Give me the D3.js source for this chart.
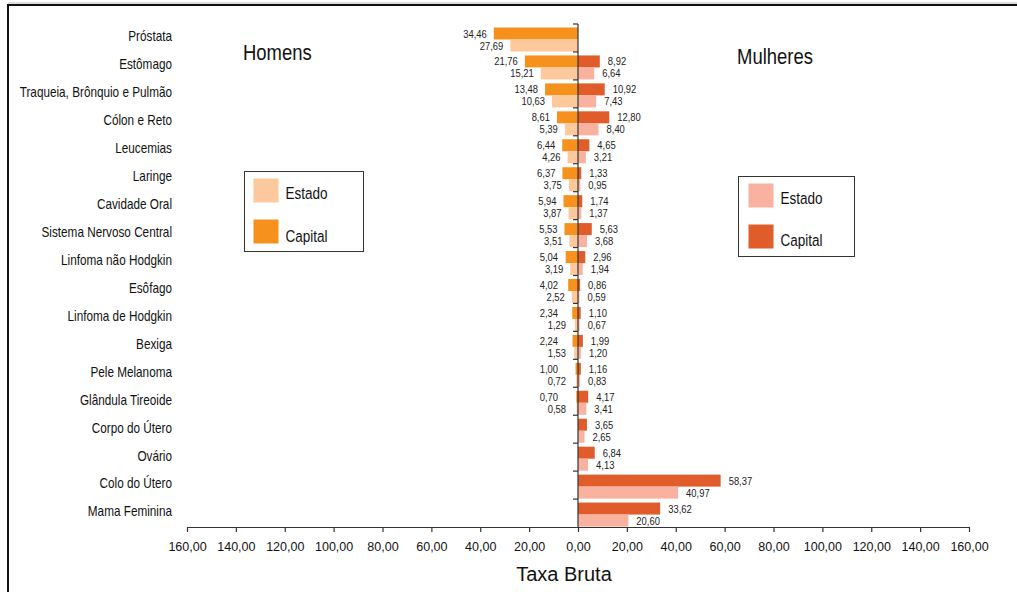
<!DOCTYPE html>
<html>
<head>
<meta charset="utf-8">
<script src="https://cdn.jsdelivr.net/npm/d3@7"></script>
<style>
  html, body { margin: 0; padding: 0; background: #fff; }
  svg { display: block; }
  text { font-family: "Liberation Sans", Arial, sans-serif; }
</style>
</head>
<body>
<svg id="chart" width="1017" height="592"></svg>
<script>
// Cancer sites, top to bottom
const categories = [
  "Próstata", "Estômago", "Traqueia, Brônquio e Pulmão", "Cólon e Reto", "Leucemias",
  "Laringe", "Cavidade Oral", "Sistema Nervoso Central", "Linfoma não Hodgkin", "Esôfago",
  "Linfoma de Hodgkin", "Bexiga", "Pele Melanoma", "Glândula Tireoide", "Corpo do Útero",
  "Ovário", "Colo do Útero", "Mama Feminina"
];
// Crude rates (Taxa Bruta) — men
const homensCapital = [34.46, 21.76, 13.48, 8.61, 6.44, 6.37, 5.94, 5.53, 5.04, 4.02, 2.34, 2.24, 1.00, 0.70, null, null, null, null];
const homensEstado  = [27.69, 15.21, 10.63, 5.39, 4.26, 3.75, 3.87, 3.51, 3.19, 2.52, 1.29, 1.53, 0.72, 0.58, null, null, null, null];
// Crude rates (Taxa Bruta) — women
const mulheresCapital = [null, 8.92, 10.92, 12.80, 4.65, 1.33, 1.74, 5.63, 2.96, 0.86, 1.10, 1.99, 1.16, 4.17, 3.65, 6.84, 58.37, 33.62];
const mulheresEstado  = [null, 6.64, 7.43, 8.40, 3.21, 0.95, 1.37, 3.68, 1.94, 0.59, 0.67, 1.20, 0.83, 3.41, 2.65, 4.13, 40.97, 20.60];
// Axis ticks (absolute values on both sides)
const tickValues = [-160, -140, -120, -100, -80, -60, -40, -20, 0, 20, 40, 60, 80, 100, 120, 140, 160];

const colors = {
  homensCapital: "#f7911e",
  homensEstado: "#fdc89b",
  mulheresCapital: "#e05c2a",
  mulheresEstado: "#fab2a0"
};

const locale = d3.formatLocale({ decimal: ",", thousands: ".", grouping: [3], currency: ["R$", ""] });
const fmt = locale.format(".2f");

// condensed text: horizontally squeezed glyphs placed at (x, y)
function narrow(sel, xf, yf, k = 0.82) {
  return sel.attr("x", 0).attr("y", 0)
    .attr("transform", (d, i) => `translate(${xf(d, i)},${yf(d, i)}) scale(${k},1)`);
}

const svg = d3.select("#chart");
const W = 1017, H = 592;
svg.append("rect").attr("width", W).attr("height", H).attr("fill", "#fff");

// frame (left and top edges)
svg.append("line").attr("x1", 8).attr("x2", W).attr("y1", 3).attr("y2", 3).attr("stroke", "#bbb").attr("stroke-width", 1);
svg.append("path").attr("d", `M8,${H} L8,5 L${W},5`).attr("fill", "none").attr("stroke", "#111").attr("stroke-width", 2);

const x0 = 578, axisY = 527, topY = 24;
const x = d3.scaleLinear().domain([-160, 160]).range([187, 969]);
const y = d3.scaleBand().domain(categories).range([topY, axisY]).padding(0);
const bw = y.bandwidth();
const barH = bw * 0.43;
const off = bw * 0.125;

const g = svg.append("g");

function barsFor(values, sign, color, slot) {
  const data = categories.map((c, i) => ({ c, v: values[i] })).filter(d => d.v != null);
  g.selectAll(null).data(data).enter().append("rect")
    .attr("x", d => sign < 0 ? x(-d.v) : x(0))
    .attr("width", d => Math.abs(x(d.v) - x(0)))
    .attr("y", d => y(d.c) + off + slot * barH)
    .attr("height", barH)
    .attr("fill", color);
  return data;
}

const hc = barsFor(homensCapital, -1, colors.homensCapital, 0);
const he = barsFor(homensEstado, -1, colors.homensEstado, 1);
const mc = barsFor(mulheresCapital, 1, colors.mulheresCapital, 0);
const me = barsFor(mulheresEstado, 1, colors.mulheresEstado, 1);

// value labels
function labelsFor(data, sign, slot, minGap) {
  const t = g.selectAll(null).data(data).enter().append("text")
    .attr("font-size", 11.5)
    .attr("fill", "#222")
    .attr("text-anchor", sign < 0 ? "end" : "start")
    .attr("dy", "0.35em")
    .text(d => fmt(d.v));
  narrow(t,
    d => sign < 0 ? Math.min(x(-d.v) - 7, x0 - minGap) : Math.max(x(d.v) + 8, x0 + minGap),
    d => y(d.c) + off + slot * barH + barH / 2);
}
labelsFor(hc, -1, 0, 20);
labelsFor(he, -1, 1, 12);
labelsFor(mc, 1, 0, 10);
labelsFor(me, 1, 1, 9);

// category labels
const cat = svg.append("g").selectAll("text").data(categories).enter().append("text")
  .attr("font-size", 14)
  .attr("fill", "#111")
  .attr("text-anchor", "end")
  .attr("dy", "0.35em")
  .text(d => d);
narrow(cat, () => 172, d => y(d) + bw / 2 - 1.5, 0.84);

// vertical axis at zero with category separators
const vAxis = svg.append("g").attr("stroke", "#333");
vAxis.append("line").attr("x1", x0).attr("x2", x0).attr("y1", topY).attr("y2", axisY).attr("stroke-width", 1.2);
const bounds = categories.map(c => y(c));
vAxis.selectAll(null).data(bounds).enter().append("line")
  .attr("x1", x0 - 5).attr("x2", x0).attr("y1", d => d).attr("y2", d => d).attr("stroke-width", 1.2);

// horizontal axis
const xAxis = d3.axisBottom(x).tickValues(tickValues).tickSize(5).tickPadding(10).tickSizeOuter(0)
  .tickFormat(d => fmt(Math.abs(d)));
const ax = svg.append("g").attr("transform", `translate(0,${axisY})`).call(xAxis);
ax.select(".domain").attr("stroke", "#333").attr("stroke-width", 1.2);
ax.selectAll(".tick line").attr("stroke", "#333").attr("stroke-width", 1.2);
ax.selectAll(".tick text").attr("font-family", "Liberation Sans, Arial, sans-serif").attr("font-size", 12.5).attr("fill", "#111");

svg.append("text").attr("font-size", 20).attr("fill", "#111")
  .attr("text-anchor", "middle").attr("x", 564).attr("y", 581).text("Taxa Bruta");

// panel titles
narrow(svg.append("text").datum(0).attr("font-size", 22).attr("fill", "#111").text("Homens"), () => 243, () => 60, 0.84);
narrow(svg.append("text").datum(0).attr("font-size", 22).attr("fill", "#111").text("Mulheres"), () => 737, () => 64, 0.84);

// legends
function legend(bx, by, bwid, bh, items) {
  const lg = svg.append("g").attr("transform", `translate(${bx},${by})`);
  lg.append("rect").attr("width", bwid).attr("height", bh).attr("fill", "#fff").attr("stroke", "#333").attr("stroke-width", 1);
  items.forEach(it => {
    lg.append("rect").attr("x", it.sx).attr("y", it.sy).attr("width", 25).attr("height", 24).attr("fill", it.color);
    narrow(lg.append("text").datum(0).attr("font-size", 16.5).attr("fill", "#111").text(it.label), () => it.tx, () => it.ty);
  });
}
legend(244.5, 171.5, 119, 80, [
  { label: "Estado", color: colors.homensEstado, sx: 9, sy: 7, tx: 41, ty: 27 },
  { label: "Capital", color: colors.homensCapital, sx: 9, sy: 48, tx: 41, ty: 70 }
]);
legend(738.5, 176.5, 116, 80, [
  { label: "Estado", color: colors.mulheresEstado, sx: 10, sy: 7, tx: 42, ty: 27 },
  { label: "Capital", color: colors.mulheresCapital, sx: 10, sy: 48, tx: 42, ty: 69 }
]);
</script>
</body>
</html>
